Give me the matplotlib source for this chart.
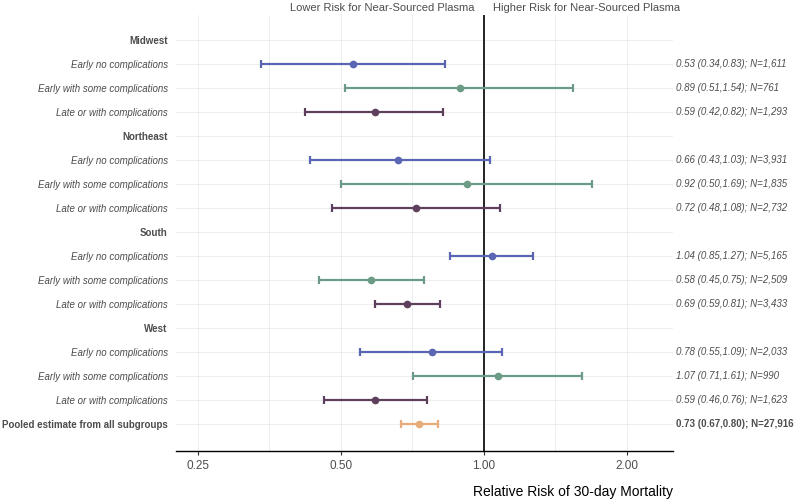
import matplotlib
matplotlib.use("Agg")
import matplotlib.pyplot as plt
import matplotlib.transforms as mtransforms
import numpy as np

plt.rcParams["font.family"] = ["Liberation Sans", "DejaVu Sans"]

# ─── Data ─────────────────────────────────────────────────────────────────────

row_labels = [
    "Midwest",
    "Early no complications", "Early with some complications", "Late or with complications",
    "Northeast",
    "Early no complications", "Early with some complications", "Late or with complications",
    "South",
    "Early no complications", "Early with some complications", "Late or with complications",
    "West",
    "Early no complications", "Early with some complications", "Late or with complications",
    "Pooled estimate from all subgroups",
]
row_kind = ["header", "early", "some", "late"] * 4 + ["pooled"]

estimate = [None, 0.53, 0.89, 0.59, None, 0.66, 0.92, 0.72,
            None, 1.04, 0.58, 0.69, None, 0.78, 1.07, 0.59, 0.73]
lower    = [None, 0.34, 0.51, 0.42, None, 0.43, 0.50, 0.48,
            None, 0.85, 0.45, 0.59, None, 0.55, 0.71, 0.46, 0.67]
upper    = [None, 0.83, 1.54, 0.82, None, 1.03, 1.69, 1.08,
            None, 1.27, 0.75, 0.81, None, 1.09, 1.61, 0.76, 0.80]
n_obs    = [None, "1,611", "761", "1,293", None, "3,931", "1,835", "2,732",
            None, "5,165", "2,509", "3,433", None, "2,033", "990", "1,623", "27,916"]

x_ticks = [0.25, 0.5, 1.0, 2.0]
x_tick_labels = ["0.25", "0.50", "1.00", "2.00"]

COLORS = {"early": "#5a66b3", "some": "#6b9b86", "late": "#5e3f5c", "pooled": "#e6ad7b"}
TEXT = "#4d4d4d"

# ─── Plot ─────────────────────────────────────────────────────────────────────

fig = plt.figure(figsize=(8, 5), dpi=100)
ax = fig.add_axes([0.22, 0.098, 0.621, 0.872])

ax.set_xscale("log")
ax.set_xlim(0.225, 2.5)
ax.set_ylim(17.125, -1.04)

# grid: major + geometric-midpoint minors, horizontal at every row
for v in x_ticks + [0.25 * np.sqrt(2), 0.5 * np.sqrt(2), 1.0 * np.sqrt(2)]:
    ax.axvline(v, color="#ebebeb", lw=0.6, zorder=0)
for i in range(len(row_labels)):
    ax.axhline(i, color="#ebebeb", lw=0.6, zorder=0)

ax.axvline(1.0, color="black", lw=1.2, zorder=1)

for i, kind in enumerate(row_kind):
    if estimate[i] is None:
        continue
    c = COLORS[kind]
    ax.errorbar(estimate[i], i,
                xerr=[[estimate[i] - lower[i]], [upper[i] - estimate[i]]],
                fmt="o", color=c, ms=4.5, elinewidth=1.6, capsize=3,
                capthick=1.6, zorder=3)

# left labels
ax.set_yticks(range(len(row_labels)))
ax.set_yticklabels(row_labels)
for lab, kind in zip(ax.get_yticklabels(), row_kind):
    lab.set_color(TEXT)
    lab.set_fontsize(7)
    if kind in ("header", "pooled"):
        lab.set_fontweight("bold")
    else:
        lab.set_fontstyle("italic")
ax.tick_params(axis="y", length=0, pad=6)

# right-side estimate text
trans = mtransforms.blended_transform_factory(ax.transAxes, ax.transData)
for i, kind in enumerate(row_kind):
    if estimate[i] is None:
        continue
    s = f"{estimate[i]:.2f} ({lower[i]:.2f},{upper[i]:.2f}); N={n_obs[i]}"
    if kind == "pooled":
        ax.text(1.007, i, s, transform=trans, va="center", ha="left",
                fontsize=7, fontweight="bold", color=TEXT, clip_on=False)
    else:
        ax.text(1.007, i, s, transform=trans, va="center", ha="left",
                fontsize=7, style="italic", color=TEXT, clip_on=False)

# x axis
ax.set_xticks(x_ticks)
ax.set_xticklabels(x_tick_labels)
ax.xaxis.set_minor_locator(matplotlib.ticker.NullLocator())
ax.tick_params(axis="x", length=3, colors="#333333", labelcolor=TEXT,
               labelsize=8.5, width=0.8)
for side in ("top", "right", "left"):
    ax.spines[side].set_visible(False)
ax.spines["bottom"].set_linewidth(1.0)

ax.set_xlabel("Relative Risk of 30-day Mortality", fontsize=10,
              color="black")
ax.xaxis.set_label_coords(1.0, -0.078)
ax.xaxis.label.set_horizontalalignment("right")

# direction labels above the panel
top = mtransforms.blended_transform_factory(ax.transData, fig.transFigure)
ax.text(0.958, 0.994, "Lower Risk for Near-Sourced Plasma", transform=top,
        ha="right", va="top", fontsize=8, color=TEXT)
ax.text(1.045, 0.994, "Higher Risk for Near-Sourced Plasma", transform=top,
        ha="left", va="top", fontsize=8, color=TEXT)

fig.savefig("out.png", dpi=100, facecolor="white")
